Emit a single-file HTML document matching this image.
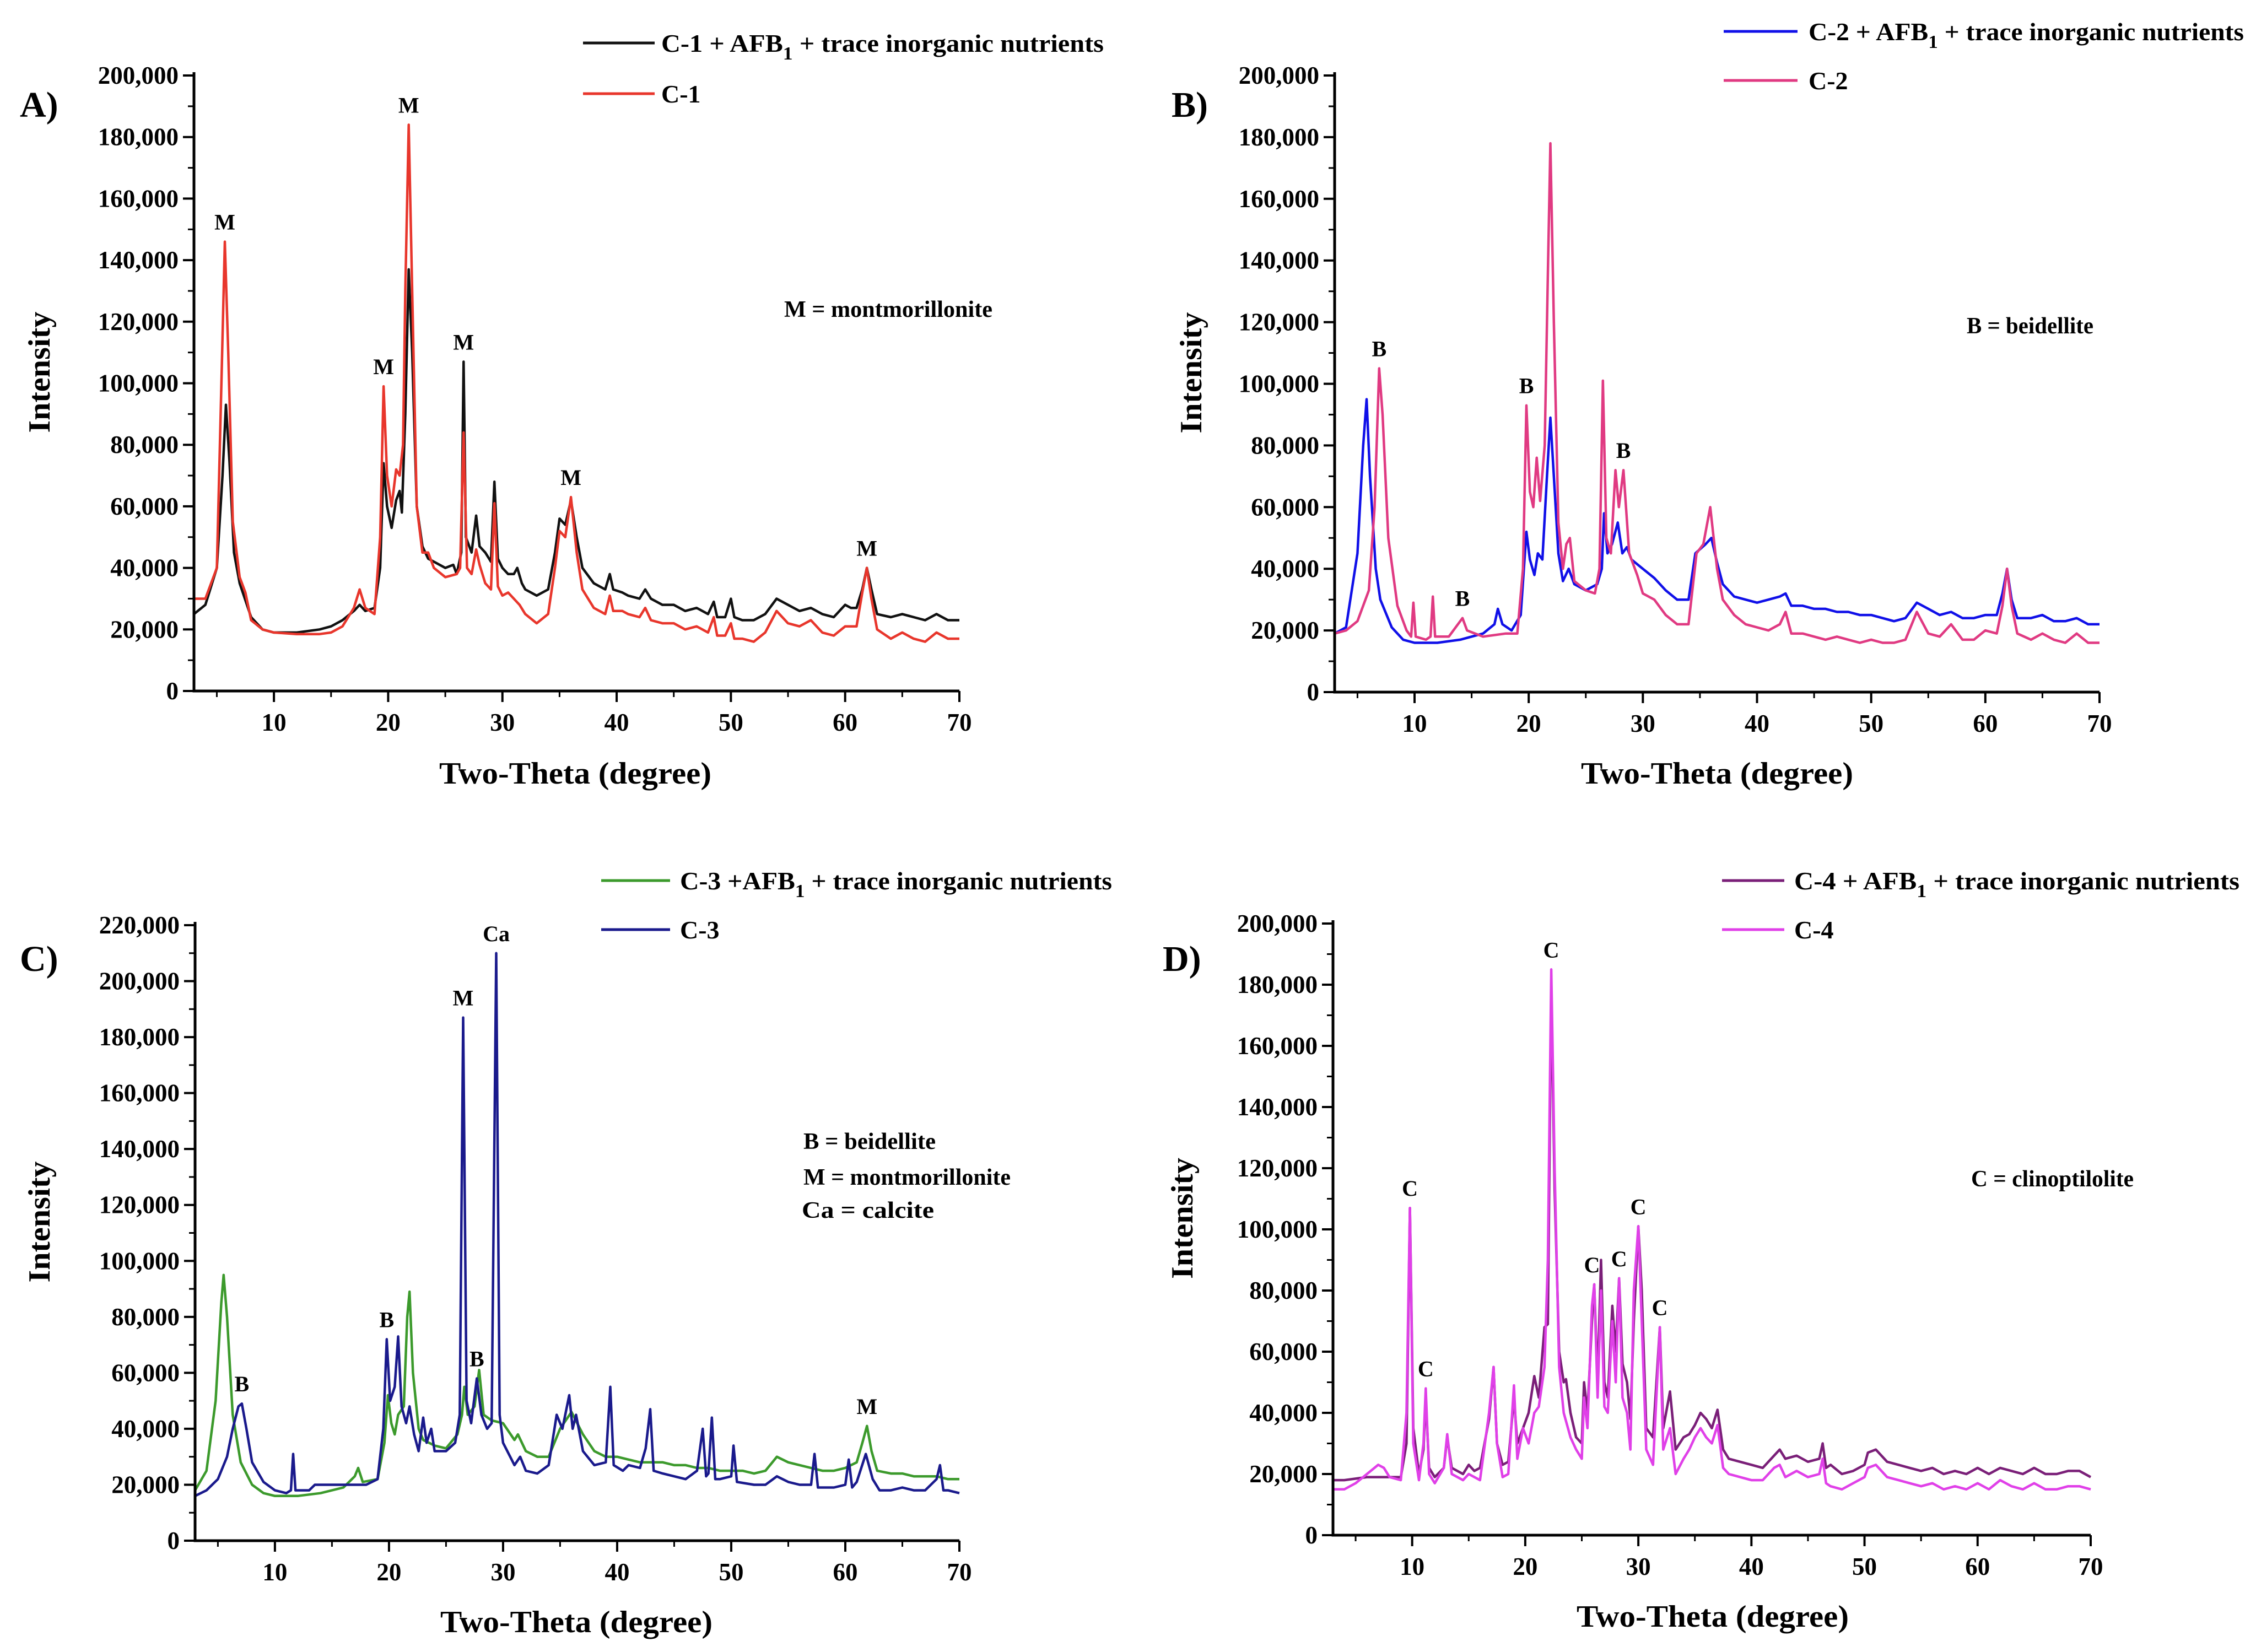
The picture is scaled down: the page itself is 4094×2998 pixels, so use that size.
<!DOCTYPE html>
<html><head><meta charset="utf-8">
<style>
html,body{margin:0;padding:0;background:#fff;}
svg{display:block;font-family:"Liberation Serif",serif;font-weight:bold;}
</style></head>
<body>
<svg id="fig" width="4094" height="2998" viewBox="0 0 4094 2998" xmlns="http://www.w3.org/2000/svg"></svg>
<script>
// ---- data (intensity in thousands, two-theta in degrees) ----
const c1Afb = [[3,25],[4,28],[5,40],[5.5,70],[5.8,93],[6.1,75],[6.5,45],[7,35],[8,24],[9,20],[10,19],[12,19],[14,20],[15,21],[16,23],[17,26],[17.5,28],[18,26],[18.8,27],[19.3,40],[19.6,74],[19.9,60],[20.3,53],[20.7,62],[21,65],[21.2,58],[21.5,90],[21.8,137],[22.1,110],[22.5,60],[23,47],[23.5,43],[24,42],[25,40],[25.7,41],[26,38],[26.4,45],[26.6,107],[26.8,50],[27.3,45],[27.7,57],[28,47],[28.5,45],[29,42],[29.3,68],[29.6,43],[30,40],[30.5,38],[31,38],[31.3,40],[31.7,35],[32,33],[33,31],[34,33],[34.6,45],[35,56],[35.5,54],[36,62],[36.5,50],[37,40],[38,35],[39,33],[39.4,38],[39.7,33],[40.5,32],[41,31],[42,30],[42.5,33],[43,30],[44,28],[45,28],[46,26],[47,27],[48,25],[48.5,29],[48.8,24],[49.5,24],[50,30],[50.3,24],[51,23],[52,23],[53,25],[54,30],[55,28],[56,26],[57,27],[58,25],[59,24],[60,28],[60.5,27],[61,27],[61.5,33],[61.9,40],[62.3,33],[62.8,25],[64,24],[65,25],[66,24],[67,23],[68,25],[69,23],[70,23]];
const c1 = [[3,30],[4,30],[5,40],[5.4,100],[5.7,146],[6,110],[6.4,55],[7,37],[7.5,32],[8,23],[9,20],[10,19],[12,18.5],[14,18.5],[15,19],[16,21],[17,27],[17.5,33],[18,27],[18.8,25],[19.3,50],[19.6,99],[19.9,70],[20.3,60],[20.7,72],[21,70],[21.3,80],[21.5,130],[21.8,184],[22.1,130],[22.5,60],[23,45],[23.5,45],[24,40],[25,37],[26,38],[26.3,40],[26.6,84],[26.9,40],[27.3,38],[27.7,46],[28,41],[28.5,35],[29,33],[29.3,61],[29.6,34],[30,31],[30.5,32],[31,30],[31.5,28],[32,25],[33,22],[34,25],[34.6,40],[35,52],[35.5,50],[36,63],[36.5,45],[37,33],[38,27],[39,25],[39.4,31],[39.7,26],[40.5,26],[41,25],[42,24],[42.5,27],[43,23],[44,22],[45,22],[46,20],[47,21],[48,19],[48.5,24],[48.8,18],[49.5,18],[50,22],[50.3,17],[51,17],[52,16],[53,19],[54,26],[55,22],[56,21],[57,23],[58,19],[59,18],[60,21],[60.5,21],[61,21],[61.5,32],[61.9,40],[62.3,30],[62.8,20],[64,17],[65,19],[66,17],[67,16],[68,19],[69,17],[70,17]];
const c2Afb = [[3,19],[4,21],[5,45],[5.5,80],[5.8,95],[6.1,70],[6.6,40],[7,30],[8,21],[9,17],[10,16],[12,16],[14,17],[15,18],[16,19],[17,22],[17.3,27],[17.7,22],[18.5,20],[19.3,25],[19.8,52],[20.1,43],[20.5,38],[20.8,45],[21.2,43],[21.6,70],[21.9,89],[22.2,70],[22.6,45],[23,36],[23.5,40],[24,35],[25,33],[26,35],[26.4,40],[26.6,58],[26.9,45],[27.3,48],[27.8,55],[28.2,45],[28.6,47],[29,43],[30,40],[31,37],[32,33],[33,30],[34,30],[34.6,45],[35.5,48],[36,50],[36.5,42],[37,35],[38,31],[39,30],[40,29],[41,30],[42,31],[42.5,32],[43,28],[44,28],[45,27],[46,27],[47,26],[48,26],[49,25],[50,25],[51,24],[52,23],[53,24],[54,29],[55,27],[56,25],[57,26],[58,24],[59,24],[60,25],[61,25],[61.5,32],[61.9,40],[62.3,30],[62.8,24],[64,24],[65,25],[66,23],[67,23],[68,24],[69,22],[70,22]];
const c2 = [[3,19],[4,20],[5,23],[6,33],[6.5,60],[6.9,105],[7.2,90],[7.7,50],[8.5,28],[9.3,20],[9.7,18],[9.9,29],[10.1,18],[11,17],[11.4,18],[11.6,31],[11.8,18],[13,18],[13.8,22],[14.2,24],[14.6,20],[16,18],[18,19],[19,19],[19.5,40],[19.8,93],[20.1,65],[20.4,60],[20.7,76],[21,62],[21.4,80],[21.7,140],[21.9,178],[22.2,120],[22.6,55],[23,40],[23.3,48],[23.6,50],[24,36],[25,33],[25.8,32],[26.2,40],[26.5,101],[26.8,50],[27.2,45],[27.6,72],[27.9,60],[28.3,72],[28.8,45],[29.5,38],[30,32],[31,30],[32,25],[33,22],[34,22],[34.7,45],[35.3,48],[35.9,60],[36.5,40],[37,30],[38,25],[39,22],[40,21],[41,20],[42,22],[42.5,26],[43,19],[44,19],[45,18],[46,17],[47,18],[48,17],[49,16],[50,17],[51,16],[52,16],[53,17],[54,26],[55,19],[56,18],[57,22],[58,17],[59,17],[60,20],[61,19],[61.5,28],[61.9,40],[62.3,28],[62.8,19],[64,17],[65,19],[66,17],[67,16],[68,19],[69,16],[70,16]];
const c3Afb = [[3,18],[4,25],[4.8,50],[5.3,85],[5.5,95],[5.8,80],[6.3,45],[7,28],[8,20],[9,17],[10,16],[12,16],[14,17],[16,19],[17,23],[17.3,26],[17.7,21],[19,22],[19.6,35],[19.9,52],[20.2,42],[20.5,38],[20.8,45],[21.3,48],[21.6,80],[21.8,89],[22.1,60],[22.6,40],[23,36],[24,34],[25,33],[26,38],[26.4,45],[26.6,55],[26.9,45],[27.5,48],[27.9,61],[28.3,45],[29,43],[30,42],[31,36],[31.3,38],[32,32],[33,30],[34,30],[35,40],[36,46],[37,38],[38,32],[39,30],[40,30],[41,29],[42,28],[43,28],[44,28],[45,27],[46,27],[47,26],[48,26],[49,25],[50,25],[51,25],[52,24],[53,25],[54,30],[55,28],[56,27],[57,26],[58,25],[59,25],[60,26],[61,28],[61.5,35],[61.9,41],[62.3,32],[62.8,25],[64,24],[65,24],[66,23],[67,23],[68,23],[69,22],[70,22]];
const c3 = [[3,16],[4,18],[5,22],[5.8,30],[6.3,40],[6.8,48],[7.1,49],[7.5,40],[8,28],[9,21],[10,18],[11,17],[11.4,18],[11.6,31],[11.8,18],[13,18],[13.5,20],[15,20],[17,20],[18,20],[19,22],[19.5,40],[19.8,72],[20.1,50],[20.5,55],[20.8,73],[21.1,48],[21.5,42],[21.8,48],[22.2,38],[22.6,32],[23,44],[23.3,35],[23.7,40],[24,32],[25,32],[25.8,35],[26.2,45],[26.5,187],[26.8,50],[27.2,42],[27.7,58],[28.1,45],[28.6,40],[29,42],[29.4,210],[29.7,45],[30,35],[31,27],[31.5,30],[32,25],[33,24],[34,27],[34.7,45],[35.2,40],[35.8,52],[36.1,40],[36.4,45],[37,32],[38,27],[39,28],[39.4,55],[39.7,27],[40.5,25],[41,27],[42,26],[42.5,33],[42.9,47],[43.2,25],[44,24],[45,23],[46,22],[47,25],[47.5,40],[47.8,23],[48,24],[48.3,44],[48.6,22],[49,22],[50,23],[50.2,34],[50.5,21],[52,20],[53,20],[54,23],[55,21],[56,20],[57,20],[57.3,31],[57.6,19],[58,19],[59,19],[60,20],[60.3,29],[60.6,19],[61,21],[61.8,31],[62.4,22],[63,18],[64,18],[65,19],[66,18],[67,18],[68,22],[68.3,27],[68.6,18],[69,18],[70,17]];
const c4Afb = [[3,18],[4,18],[6,19],[8,19],[9,19],[9.5,30],[9.8,107],[10.1,35],[10.6,20],[11,28],[11.2,45],[11.5,22],[12,19],[12.8,22],[13.1,32],[13.5,22],[14.5,20],[15,23],[15.5,21],[16,22],[16.8,38],[17.2,55],[17.5,30],[18,23],[18.5,24],[19,45],[19.3,30],[19.8,35],[20.3,40],[20.8,52],[21.2,45],[21.7,68],[22,69],[22.3,180],[22.6,113],[23,60],[23.4,50],[23.6,51],[24,40],[24.5,32],[25,30],[25.2,50],[25.5,40],[25.9,70],[26.1,82],[26.4,50],[26.7,90],[27,50],[27.3,45],[27.7,75],[28,60],[28.3,84],[28.6,56],[29,50],[29.3,38],[29.6,70],[30,101],[30.3,80],[30.7,35],[31.3,32],[31.9,68],[32.2,35],[32.8,47],[33.3,28],[34,32],[34.5,33],[35,36],[35.5,40],[36,38],[36.5,35],[37,41],[37.5,28],[38,25],[39,24],[40,23],[41,22],[42,26],[42.5,28],[43,25],[44,26],[45,24],[46,25],[46.3,30],[46.6,22],[47,23],[48,20],[49,21],[50,23],[50.3,27],[51,28],[52,24],[53,23],[54,22],[55,21],[56,22],[57,20],[58,21],[59,20],[60,22],[61,20],[62,22],[63,21],[64,20],[65,22],[66,20],[67,20],[68,21],[69,21],[70,19]];
const c4 = [[3,15],[4,15],[5,17],[6,20],[7,23],[7.5,22],[8,19],[9,18],[9.5,40],[9.8,107],[10.1,30],[10.6,18],[11,30],[11.2,48],[11.5,20],[12,17],[12.8,22],[13.1,33],[13.5,20],[14.5,18],[15,20],[16,18],[16.8,40],[17.2,55],[17.5,30],[18,19],[18.5,20],[19,49],[19.3,25],[19.8,35],[20.3,30],[20.8,40],[21.2,42],[21.7,55],[22,90],[22.3,185],[22.6,120],[23,55],[23.4,40],[24,32],[24.5,28],[25,25],[25.2,45],[25.5,35],[25.9,75],[26.1,82],[26.4,45],[26.7,80],[27,42],[27.3,40],[27.7,70],[28,50],[28.3,84],[28.6,45],[29,40],[29.3,28],[29.6,80],[30,101],[30.3,70],[30.7,28],[31.3,23],[31.9,68],[32.2,28],[32.8,35],[33.3,20],[34,25],[34.5,28],[35,32],[35.5,35],[36,32],[36.5,30],[37,36],[37.5,22],[38,20],[39,19],[40,18],[41,18],[42,22],[42.5,23],[43,19],[44,21],[45,19],[46,20],[46.3,25],[46.6,17],[47,16],[48,15],[49,17],[50,19],[50.3,22],[51,23],[52,19],[53,18],[54,17],[55,16],[56,17],[57,15],[58,16],[59,15],[60,17],[61,15],[62,18],[63,16],[64,15],[65,17],[66,15],[67,15],[68,16],[69,16],[70,15]];

const xTicks = [10,20,30,40,50,60,70];
const yTicks200 = [0,20,40,60,80,100,120,140,160,180,200];
const yTicks220 = [0,20,40,60,80,100,120,140,160,180,200,220];

const peaksA = [["M",5.7,146],["M",19.6,99],["M",21.8,184],["M",26.6,107],["M",36,63],["M",61.9,40]];
const peaksB = [["B",6.9,105],["B",14.2,24],["B",19.8,93],["B",28.3,72]];
const peaksC = [["B",7.1,49],["B",19.8,72],["M",26.5,187],["B",27.7,58],["Ca",29.4,210],["M",61.9,41]];
const peaksD = [["C",9.8,107],["C",11.2,48],["C",22.3,185],["C",25.9,82],["C",28.3,84],["C",30,101],["C",31.9,68]];

// ---- drawing ----
const NS = "http://www.w3.org/2000/svg";
const svg = document.getElementById("fig");
function mk(tag, attrs, parent){
  const e = document.createElementNS(NS, tag);
  for (const k in attrs) e.setAttribute(k, attrs[k]);
  (parent||svg).appendChild(e);
  return e;
}
function fmt(v){ return v===0 ? "0" : (v + ",000"); }

const panels = [
  {id:"a", letter:"A)", lx:36, ly:212, x0:352, x1:1741, y0:1254, y1:137, ymax:200, yt:yTicks200,
   s:[{d:c1Afb,c:"#111111",n:"C-1 + AFB",sub:true},{d:c1,c:"#e8362c",n:"C-1"}],
   leg:{lx1:1058,lx2:1188,tx:1200,ty1:78,ty2:170,tw:803}, notes:[["M = montmorillonite",1423,575,378]], pk:peaksA, tx:1044, ty:1422},
  {id:"b", letter:"B)", lx:2126, ly:212, x0:2422, x1:3810, y0:1256, y1:137, ymax:200, yt:yTicks200,
   s:[{d:c2Afb,c:"#1010e8",n:"C-2 + AFB",sub:true},{d:c2,c:"#e03a82",n:"C-2"}],
   leg:{lx1:3128,lx2:3262,tx:3282,ty1:57,ty2:146,tw:790}, notes:[["B = beidellite",3569,605,230]], pk:peaksB, tx:3116, ty:1422},
  {id:"c", letter:"C)", lx:36, ly:1762, x0:354, x1:1741, y0:2796, y1:1679, ymax:220, yt:yTicks220,
   s:[{d:c3Afb,c:"#3c9a2c",n:"C-3 +AFB",sub:true},{d:c3,c:"#1a1a8c",n:"C-3"}],
   leg:{lx1:1091,lx2:1216,tx:1234,ty1:1598,ty2:1687,tw:784}, notes:[["B = beidellite",1458,2085,240],["M = montmorillonite",1458,2150,376],["Ca = calcite",1455,2210,240]], pk:peaksC, tx:1046, ty:2962},
  {id:"d", letter:"D)", lx:2110, ly:1762, x0:2419, x1:3794, y0:2786, y1:1676, ymax:200, yt:yTicks200,
   s:[{d:c4Afb,c:"#7a1f78",n:"C-4 + AFB",sub:true},{d:c4,c:"#e040e8",n:"C-4"}],
   leg:{lx1:3125,lx2:3238,tx:3256,ty1:1598,ty2:1687,tw:808}, notes:[["C = clinoptilolite",3577,2153,295]], pk:peaksD, tx:3108, ty:2952}
];

panels.forEach(p=>{
  const g = mk("g",{});
  
  
  const sx = v => p.x0 + (v-3)/(70-3)*(p.x1-p.x0);
  const sy = v => p.y0 - v/p.ymax*(p.y0-p.y1);
  // panel letter
  const L = mk("text",{x:p.lx,y:p.ly,"font-size":66,fill:"#000"},g); L.textContent=p.letter;
  
  
  // series
  p.s.forEach((s,i)=>{
    const pts = s.d.map(q=>sx(q[0]).toFixed(1)+","+sy(q[1]).toFixed(1)).join(" ");
    const pl = mk("polyline",{points:pts,fill:"none",stroke:s.c,"stroke-width":4.5,"stroke-linejoin":"round"},g);
    
    
  });
  // axes
  const ax = mk("path",{d:`M${p.x0},${p.y1-6} V${p.y0} H${p.x1}`,fill:"none",stroke:"#000","stroke-width":5},g);
  
  
  // y ticks
  p.yt.forEach((v,i)=>{
    const y = sy(v);
    mk("line",{x1:p.x0-20,x2:p.x0,y1:y,y2:y,stroke:"#000","stroke-width":4},g);
    if (i<p.yt.length-1){ const ym=sy(v+10); mk("line",{x1:p.x0-11,x2:p.x0,y1:ym,y2:ym,stroke:"#000","stroke-width":3},g); }
    const t = mk("text",{x:p.x0-28,y:y+15,"font-size":45,"text-anchor":"end",fill:"#000"},g);
    t.textContent = fmt(v);
    
    
  });
  // x ticks
  [5,15,25,35,45,55,65].forEach(v=>{ const x=sx(v); mk("line",{x1:x,x2:x,y1:p.y0,y2:p.y0+11,stroke:"#000","stroke-width":3},g); });
  xTicks.forEach(v=>{
    const x = sx(v);
    mk("line",{x1:x,x2:x,y1:p.y0,y2:p.y0+20,stroke:"#000","stroke-width":4},g);
    const t = mk("text",{x:x,y:p.y0+72,"font-size":45,"text-anchor":"middle",fill:"#000"},g);
    t.textContent = v;
    
    
  });
  // axis titles
  const xt = mk("text",{x:p.tx,y:p.ty,"font-size":56,"text-anchor":"middle",textLength:494,lengthAdjust:"spacingAndGlyphs",fill:"#000"},g);
  xt.textContent = "Two-Theta (degree)";
  
  
  const ymid = (p.y0+p.y1)/2 - 20;
  const yt = mk("text",{x:0,y:0,"font-size":56,"text-anchor":"middle",textLength:220,lengthAdjust:"spacingAndGlyphs",fill:"#000",transform:`translate(${p.lx+54},${ymid}) rotate(-90)`},g);
  yt.textContent = "Intensity";
  
  
  // legend
  p.s.forEach((s,i)=>{
    const ly = i===0 ? p.leg.ty1 : p.leg.ty2;
    const ln = mk("line",{x1:p.leg.lx1,x2:p.leg.lx2,y1:ly,y2:ly,stroke:s.c,"stroke-width":5},g);
    
    
    const t = mk("text",{x:p.leg.tx,y:ly+16,"font-size":46,fill:"#000"},g);
    
    
    if (s.sub){
      t.setAttribute("textLength",p.leg.tw); t.setAttribute("lengthAdjust","spacingAndGlyphs");
      const a = mk("tspan",{},t); a.textContent = s.n;
      const b = mk("tspan",{dy:14,"font-size":34},t); b.textContent = "1";
      const c = mk("tspan",{dy:-14},t); c.textContent = " + trace inorganic nutrients";
    } else {
      t.textContent = s.n;
    }
  });
  // notes
  p.notes.forEach(n=>{
    const t = mk("text",{x:n[1],y:n[2],"font-size":42,textLength:n[3],lengthAdjust:"spacingAndGlyphs",fill:"#000"},g);
    t.textContent = n[0];
    
    
  });
  // peak labels
  p.pk.forEach(k=>{
    const t = mk("text",{x:sx(k[1]),y:sy(k[2])-22,"font-size":40,"text-anchor":"middle",fill:"#000"},g);
    t.textContent = k[0];
    
    
  });
});
</script>
</body></html>
